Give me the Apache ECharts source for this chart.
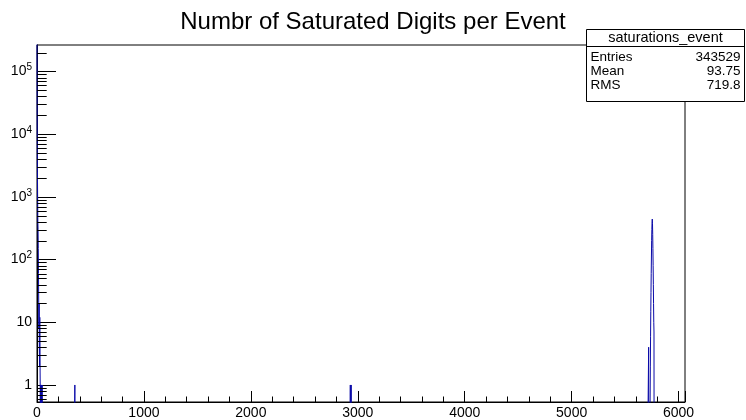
<!DOCTYPE html>
<html>
<head>
<meta charset="utf-8">
<script src="https://cdn.jsdelivr.net/npm/echarts@6/dist/echarts.min.js"></script>
<style>
  html, body { margin: 0; padding: 0; background: #fff; }
  #chart { width: 746px; height: 420px; }
</style>
</head>
<body>
<div id="chart"></div>
<script>
// Histogram of saturated digits per event (fixed-width bins)
const binWidth = 2;
const xMin = 0;
const xMax = 6060;

// Non-empty bins: lower edge of each bin and its count
const binLowEdges = [
  0, 2, 4, 6, 8, 10, 12, 14, 16, 18, 20, 22, 24, 26, 28, 30,
  34, 38, 42, 48, 50,
  354,
  2930, 2938,
  5720, 5736, 5738, 5740, 5742, 5744, 5746, 5748, 5750, 5752, 5754,
  5756, 5758, 5760, 5762, 5764, 5766, 5768, 5770
];
const binCounts = [
  330000, 9000, 2500, 900, 400, 300, 150, 60, 21, 8, 20, 4, 2, 12, 3, 1,
  1, 1, 1, 1, 1,
  1,
  1, 1,
  4, 2, 6, 15, 30, 60, 110, 200, 300, 400, 443,
  380, 250, 150, 80, 40, 20, 10, 7
];

// Axis ranges and labelled ticks
const yMin = 0.535;
const yMax = 2.65e5;
const xTickValues = [0, 1000, 2000, 3000, 4000, 5000, 6000];
const yTickValues = [1, 10, 100, 1000, 10000, 100000];

// Statistics box
const statsTitle = 'saturations_event';
const statsNames = ['Entries', 'Mean', 'RMS'];
const statsValues = ['343529', '93.75', '719.8'];

const FONT = '"Liberation Sans", Arial, Helvetica, sans-serif';
const EMPTY = 1e-3; // empty bins sit below the axis floor and are clipped

// Dense step outline of the histogram
const countByBin = new Map();
binLowEdges.forEach((e, i) => countByBin.set(Math.round((e - xMin) / binWidth), binCounts[i]));
const nBins = Math.round((xMax - xMin) / binWidth);
const histPoints = [];
for (let b = 0; b < nBins; b++) {
  const c = countByBin.get(b) || 0;
  histPoints.push([xMin + b * binWidth, c > 0 ? c : EMPTY]);
}
histPoints.push([xMax, EMPTY]);

// Logarithmic minor ticks (2..9 x 10^k) inside the y range
const yMinorTicks = [];
for (let e = -1; e <= 5; e++) {
  for (let k = 2; k <= 9; k++) {
    const v = k * Math.pow(10, e);
    if (v > yMin && v < yMax) yMinorTicks.push([xMin, v]);
  }
}

function yLabel(v) {
  const e = Math.round(Math.log10(v));
  if (!yTickValues.some(t => Math.abs(t - v) / t < 1e-6)) return '';
  if (e === 0) return '1';
  if (e === 1) return '10';
  return '10{sup|' + e + '}';
}

const chart = echarts.init(document.getElementById('chart'), null, { renderer: 'canvas' });
chart.setOption({
  animation: false,
  backgroundColor: '#fff',
  title: {
    text: 'Numbr of Saturated Digits per Event',
    left: 'center',
    top: 5,
    textStyle: { fontFamily: FONT, fontSize: 24, fontWeight: 'normal', color: '#000' }
  },
  grid: {
    left: 37, right: 61, top: 45, bottom: 18,
    show: true, borderColor: '#000', borderWidth: 1, backgroundColor: 'transparent'
  },
  xAxis: {
    type: 'value',
    min: xMin,
    max: xMax,
    interval: 1000,
    axisLine: { show: true, onZero: false, lineStyle: { color: '#000', width: 1 } },
    axisTick: { show: true, inside: true, length: 11, lineStyle: { color: '#000', width: 1 } },
    minorTick: { show: true, splitNumber: 5, length: 5.5, lineStyle: { color: '#000', width: 1 } },
    splitLine: { show: false },
    minorSplitLine: { show: false },
    axisLabel: {
      color: '#000', fontFamily: FONT, fontSize: 14, margin: 4,
      showMaxLabel: false,
      formatter: v => (xTickValues.indexOf(v) >= 0 ? String(v) : '')
    }
  },
  yAxis: {
    type: 'log',
    logBase: 10,
    min: yMin,
    max: yMax,
    axisLine: { show: true, onZero: false, lineStyle: { color: '#000', width: 1 } },
    axisTick: { show: true, inside: true, length: 19, lineStyle: { color: '#000', width: 1 } },
    minorTick: { show: false },
    splitLine: { show: false },
    axisLabel: {
      color: '#000', fontFamily: FONT, fontSize: 14, margin: 5,
      showMinLabel: false, showMaxLabel: false,
      formatter: yLabel,
      rich: {
        sup: { fontFamily: FONT, fontSize: 10, color: '#000', padding: [0, 0, 8, 0] }
      }
    }
  },
  series: [
    {
      name: 'saturations_event',
      type: 'line',
      step: 'end',
      data: histPoints,
      showSymbol: false,
      symbol: 'none',
      clip: true,
      lineStyle: { color: '#0a0aa8', width: 1 },
      z: 3
    },
    {
      type: 'custom',
      coordinateSystem: 'cartesian2d',
      data: yMinorTicks,
      silent: true,
      z: 4,
      renderItem: (params, api) => {
        const p = api.coord([api.value(0), api.value(1)]);
        const y = Math.round(p[1]) + 0.5;
        return {
          type: 'line',
          shape: { x1: p[0], y1: y, x2: p[0] + 9.7, y2: y },
          style: { stroke: '#000', lineWidth: 1 }
        };
      }
    }
  ],
  graphic: [
    {
      type: 'group',
      x: 586.5,
      y: 29.5,
      z: 100,
      children: [
        { type: 'rect', shape: { x: 0, y: 0, width: 158, height: 72 },
          style: { fill: '#fff', stroke: '#000', lineWidth: 1 } },
        { type: 'line', shape: { x1: 0, y1: 17, x2: 158, y2: 17 },
          style: { stroke: '#000', lineWidth: 1 } },
        { type: 'text', x: 79, y: 8.5,
          style: { text: statsTitle, align: 'center', verticalAlign: 'middle',
                   font: '14.5px ' + FONT, fill: '#000' } }
      ].concat(statsNames.flatMap((name, i) => [
        { type: 'text', x: 4, y: 28 + i * 14,
          style: { text: name, align: 'left', verticalAlign: 'middle',
                   font: '13.5px ' + FONT, fill: '#000' } },
        { type: 'text', x: 154, y: 28 + i * 14,
          style: { text: statsValues[i], align: 'right', verticalAlign: 'middle',
                   font: '13.5px ' + FONT, fill: '#000' } }
      ]))
    }
  ]
});
</script>
</body>
</html>
